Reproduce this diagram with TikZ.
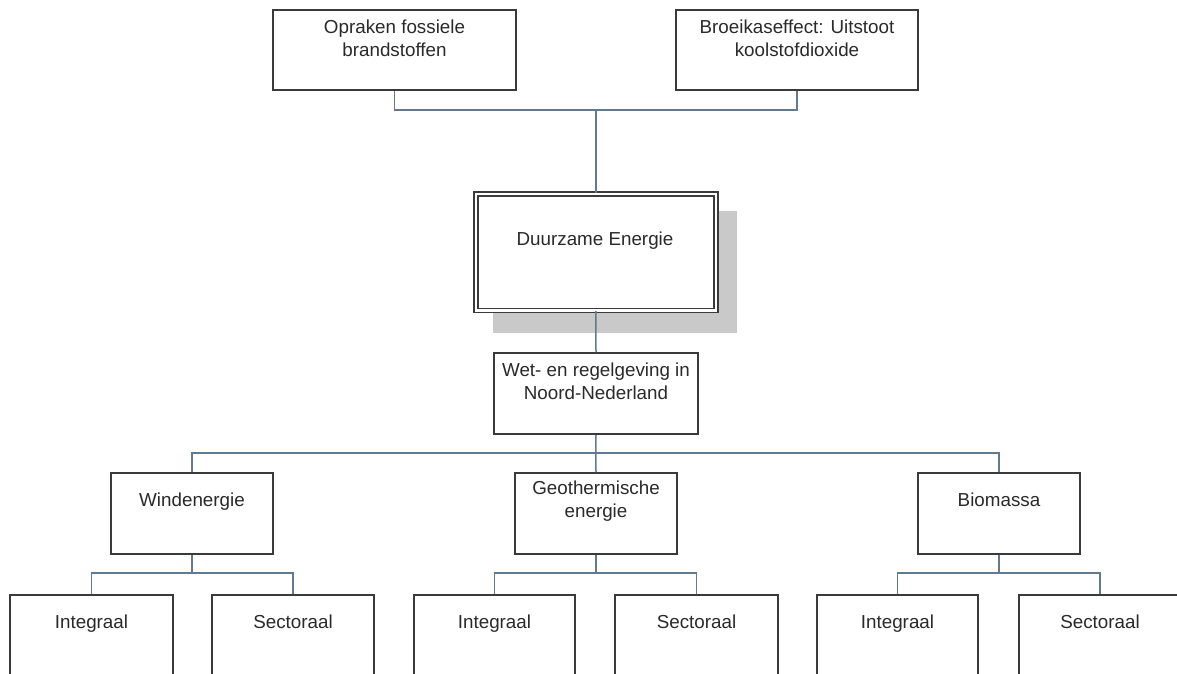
\documentclass[tikz,border=0pt]{standalone}
\usepackage{fontspec}
\setmainfont{Liberation Sans}
\definecolor{conn}{HTML}{62798F}
\definecolor{bord}{HTML}{3A3A3A}
\definecolor{shad}{HTML}{C9C9C9}
\definecolor{txt}{HTML}{2A2A2A}
\tikzset{
  box/.style={draw=bord, line width=2pt, fill=white, inner sep=0pt, anchor=north west},
  lbl/.style={text=txt, font=\fontsize{18.8}{23}\selectfont, align=center, inner sep=0pt},
  lblone/.style={lbl, text height=13.7pt, text depth=4pt},
  link/.style={draw=conn, line width=1.5pt},
}
\begin{document}
\begin{tikzpicture}[x=1pt,y=-1pt]
\useasboundingbox (0,0) rectangle (1177,673);
\clip (0,0) rectangle (1177,673);
% shadow of main box
\fill[shad] (493,211) rectangle (737,333);
% boxes
\node[box, minimum width=243pt, minimum height=80pt] (tl) at (272,9) {};
\node[box, minimum width=242pt, minimum height=80pt] (tr) at (675,9) {};
\node[draw=bord, line width=1.6pt, double=white, double distance=2.4pt, fill=white, inner sep=0pt,
      anchor=north west, minimum width=240pt, minimum height=116.5pt] (de) at (475,193) {};
\node[box, minimum width=204pt, minimum height=81pt] (wet) at (493,352) {};
\node[box, minimum width=162pt, minimum height=81pt] (wi) at (110,472) {};
\node[box, minimum width=162pt, minimum height=81pt] (ge) at (514,472) {};
\node[box, minimum width=162pt, minimum height=81pt] (bi) at (917,472) {};
\node[box, minimum width=163pt, minimum height=110pt] (wi1) at (9,594) {};
\node[box, minimum width=162pt, minimum height=110pt] (wi2) at (211,594) {};
\node[box, minimum width=161pt, minimum height=110pt] (ge1) at (413,594) {};
\node[box, minimum width=163pt, minimum height=110pt] (ge2) at (614,594) {};
\node[box, minimum width=161pt, minimum height=110pt] (bi1) at (816,594) {};
\node[box, minimum width=162pt, minimum height=110pt] (bi2) at (1018,594) {};
% junction coordinates
\coordinate (j1) at (de.north |- {(0,110)});
\coordinate (j2) at (de.north |- {(0,453)});
\coordinate (jw) at (wi.south |- {(0,573)});
\coordinate (jg) at (ge.south |- {(0,573)});
\coordinate (jb) at (bi.south |- {(0,573)});
% connectors
\draw[link] (tl.south) |- (j1) -| (tr.south);
\draw[link] (j1) -- (de.north);
\draw[link] (de.south) -- (wet.north);
\draw[link] (wet.south) -- (j2);
\draw[link] (wi.north) |- (j2) -| (bi.north);
\draw[link] (j2) -- (ge.north);
\draw[link] (wi.south) -- (jw);
\draw[link] (wi1.north) |- (jw) -| (wi2.north);
\draw[link] (ge.south) -- (jg);
\draw[link] (ge1.north) |- (jg) -| (ge2.north);
\draw[link] (bi.south) -- (jb);
\draw[link] (bi1.north) |- (jb) -| (bi2.north);
% labels
\node[lbl] (ttl) at ([yshift=-29.5pt]tl.north) {Opraken fossiele\\brandstoffen};
\node[lbl] (ttr) at ([yshift=-29.5pt]tr.north) {Broeikaseffect: Uitstoot\\koolstofdioxide};
\node[lblone] (tde) at (595,241) {Duurzame Energie};
\node[lbl] (twet) at ([yshift=-29.5pt]wet.north) {Wet- en regelgeving in\\Noord-Nederland};
\node[lblone] (twi) at ([yshift=-29.5pt]wi.north) {Windenergie};
\node[lbl] (tge) at ([yshift=-29.5pt]ge.north) {Geothermische\\energie};
\node[lblone] (tbi) at ([yshift=-29.5pt]bi.north) {Biomassa};
\node[lblone] (twi1) at ([yshift=-29.5pt]wi1.north) {Integraal};
\node[lblone] (twi2) at ([yshift=-29.5pt]wi2.north) {Sectoraal};
\node[lblone] (tge1) at ([yshift=-29.5pt]ge1.north) {Integraal};
\node[lblone] (tge2) at ([yshift=-29.5pt]ge2.north) {Sectoraal};
\node[lblone] (tbi1) at ([yshift=-29.5pt]bi1.north) {Integraal};
\node[lblone] (tbi2) at ([yshift=-29.5pt]bi2.north) {Sectoraal};
\end{tikzpicture}
\end{document}
